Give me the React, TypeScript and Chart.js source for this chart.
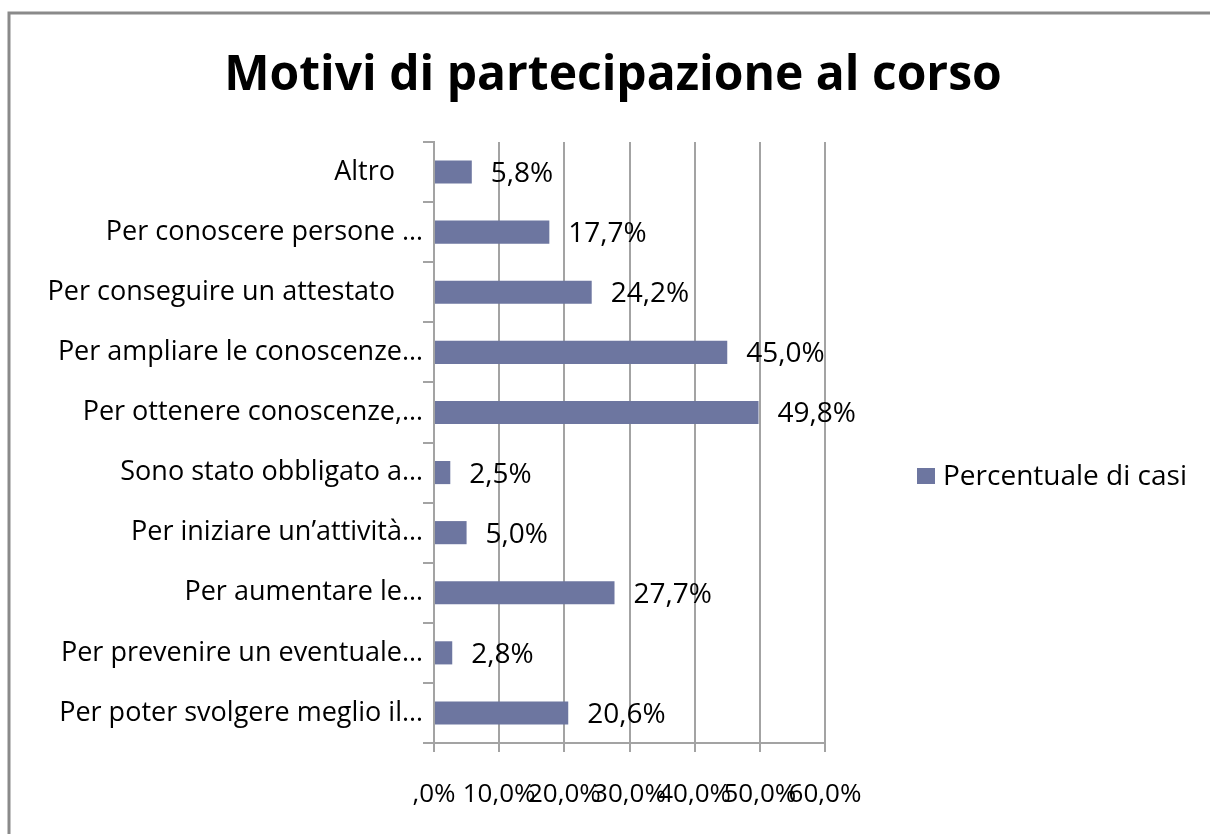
import React, { useEffect, useRef } from "react";
import { Chart, registerables } from "chart.js";

Chart.register(...registerables);

const chartTitle = "Motivi di partecipazione al corso";
const seriesName = "Percentuale di casi";
const categories = [
  "Altro    ",
  "Per conoscere persone …",
  "Per conseguire un attestato    ",
  "Per ampliare le conoscenze…",
  "Per ottenere conoscenze,…",
  "Sono stato obbligato a…",
  "Per iniziare un’attività…",
  "Per aumentare le…",
  "Per prevenire un eventuale…",
  "Per poter svolgere meglio il…",
];
const values = [5.8, 17.7, 24.2, 45.0, 49.8, 2.5, 5.0, 27.7, 2.8, 20.6];
const xMin = 0;
const xMax = 60;
const xStep = 10;

const FONT = '"Open Sans", sans-serif';
const BAR = "#6d76a0";
const GRID = "#a3a3a3";

const fmt = (v: number) => {
  const s = v.toFixed(1).replace(".", ",");
  return (s.startsWith("0,") ? s.slice(1) : s) + "%";
};

const decorPlugin = {
  id: "decor",
  beforeDraw(chart: any) {
    const ctx = chart.ctx;
    ctx.save();
    ctx.fillStyle = "#ffffff";
    ctx.fillRect(0, 0, chart.width, chart.height);
    ctx.strokeStyle = "#8a8a8a";
    ctx.lineWidth = 3;
    ctx.beginPath();
    ctx.moveTo(9, chart.height + 5);
    ctx.lineTo(9, 13);
    ctx.lineTo(chart.width + 5, 13);
    ctx.stroke();
    ctx.restore();
  },
  afterDraw(chart: any) {
    const ctx = chart.ctx;
    ctx.save();
    // title
    ctx.fillStyle = "#000";
    ctx.textAlign = "center";
    ctx.textBaseline = "middle";
    ctx.font = `bold 48px ${FONT}`;
    ctx.fillText(chartTitle, 613, 76);
    // legend
    ctx.fillStyle = BAR;
    ctx.fillRect(917, 468, 18, 16);
    ctx.fillStyle = "#000";
    ctx.textAlign = "left";
    ctx.font = `28px ${FONT}`;
    ctx.fillText(seriesName, 943, 477);
    // data labels
    const meta = chart.getDatasetMeta(0);
    ctx.font = `28px ${FONT}`;
    meta.data.forEach((bar: any, i: number) => {
      ctx.fillText(fmt(values[i]), bar.x + 19, bar.y + 2);
    });
    ctx.restore();
  },
};

export default function App() {
  const ref = useRef<HTMLCanvasElement>(null);
  useEffect(() => {
    if (!ref.current) return;
    const chart = new Chart(ref.current, {
      type: "bar",
      data: {
        labels: categories,
        datasets: [
          {
            label: seriesName,
            data: values,
            backgroundColor: BAR,
            borderWidth: 0,
            categoryPercentage: 1,
            barPercentage: 0.385,
          },
        ],
      },
      plugins: [decorPlugin],
      options: {
        indexAxis: "y",
        animation: false,
        responsive: false,
        devicePixelRatio: 1,
        layout: { padding: { top: 142, right: 385, bottom: 0, left: 0 } },
        plugins: {
          legend: { display: false },
          title: { display: false },
          tooltip: { enabled: false },
        },
        scales: {
          x: {
            min: xMin,
            max: xMax,
            ticks: {
              stepSize: xStep,
              autoSkip: false,
              maxRotation: 0,
              minRotation: 0,
              color: "#000",
              padding: 27,
              font: { family: FONT, size: 26 },
              callback: (v: any) => fmt(Number(v)),
            },
            grid: { color: GRID, lineWidth: 2, tickLength: 9, drawTicks: true },
            border: { color: GRID, width: 2 },
            afterFit: (s: any) => {
              s.height = 91;
            },
          },
          y: {
            ticks: {
              autoSkip: false,
              color: "#000",
              padding: 0,
              font: { family: FONT, size: 27 },
            },
            grid: {
              drawOnChartArea: false,
              drawTicks: true,
              tickLength: 11,
              color: GRID,
              lineWidth: 2,
              offset: true,
            },
            border: { color: GRID, width: 2 },
            afterFit: (s: any) => {
              s.width = 434;
            },
          },
        },
      },
    });
    return () => chart.destroy();
  }, []);
  return (
    <div style={{ position: "absolute", left: 0, top: 0, width: 1210, height: 834 }}>
      <canvas ref={ref} width={1210} height={834} style={{ display: "block" }} />
    </div>
  );
}
